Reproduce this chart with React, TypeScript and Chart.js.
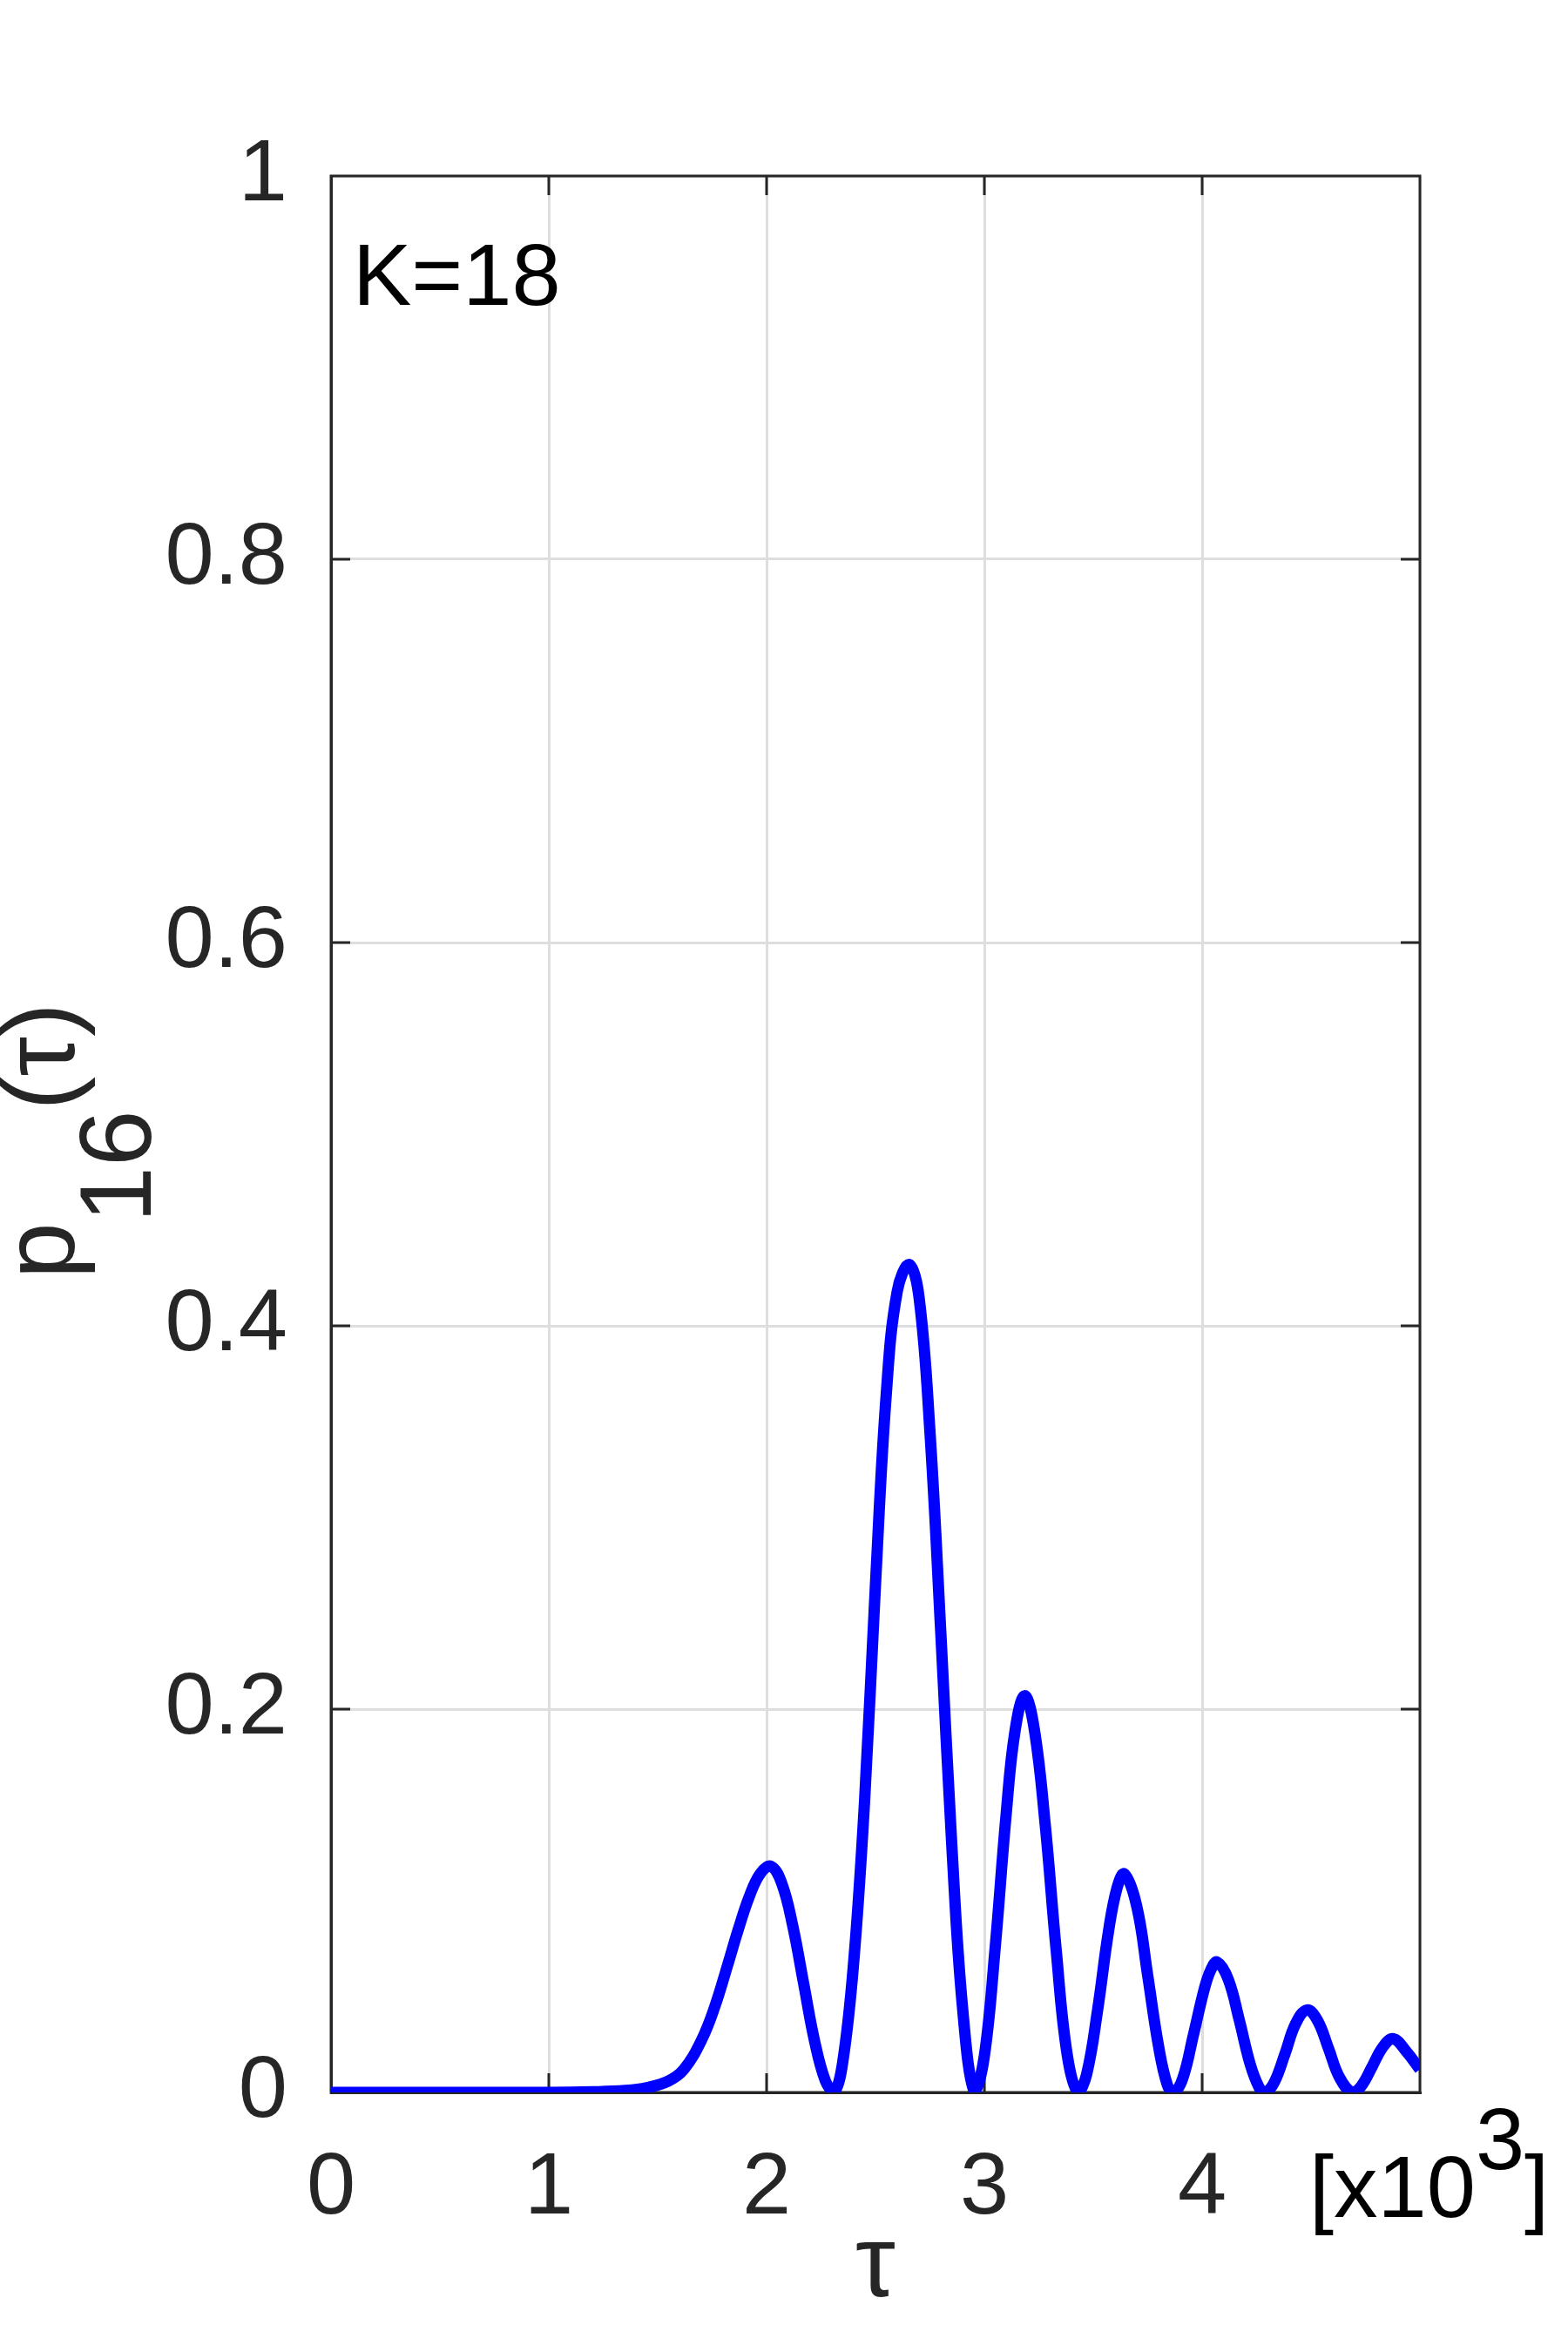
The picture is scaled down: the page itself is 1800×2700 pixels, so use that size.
import React, { useEffect, useRef } from 'react';
import { Chart, registerables } from 'chart.js';

Chart.register(...registerables);

// τ in units of 10^3 (as on the axis)
const tauK = [
  0, 1.0, 1.2, 1.35, 1.45, 1.55, 1.62, 1.7, 1.76, 1.82, 1.87, 1.92, 1.97, 2.02, 2.07, 2.12, 2.17, 2.22, 2.27, 2.31,
  2.35, 2.4, 2.45, 2.5, 2.55, 2.6, 2.655, 2.7, 2.75, 2.8, 2.85, 2.9, 2.955,
  3.0, 3.05, 3.1, 3.14, 3.185, 3.23, 3.28, 3.33, 3.38, 3.43,
  3.47, 3.52, 3.57, 3.61, 3.643, 3.7, 3.75, 3.8, 3.84, 3.868,
  3.91, 3.96, 4.01, 4.04, 4.069, 4.12, 4.17, 4.22, 4.26, 4.288,
  4.33, 4.38, 4.43, 4.482, 4.53, 4.58, 4.63, 4.688,
  4.73, 4.78, 4.83, 4.878, 4.94, 5.0,
];
const prob = [
  0, 0, 0.0003, 0.001, 0.0025, 0.006, 0.012, 0.027, 0.044, 0.066, 0.085, 0.102, 0.114, 0.118, 0.109, 0.087, 0.057, 0.027, 0.006, 0,
  0.016, 0.068, 0.152, 0.265, 0.365, 0.418, 0.432, 0.415, 0.345, 0.24, 0.13, 0.044, 0,
  0.019, 0.076, 0.145, 0.188, 0.207, 0.189, 0.139, 0.074, 0.02, 0,
  0.0096, 0.043, 0.084, 0.107, 0.114, 0.097, 0.061, 0.024, 0.004, 0,
  0.007, 0.03, 0.054, 0.064, 0.068, 0.059, 0.038, 0.015, 0.003, 0,
  0.005, 0.02, 0.036, 0.043, 0.0375, 0.023, 0.008, 0,
  0.0032, 0.0133, 0.0237, 0.028, 0.021, 0.012,
];
const xTickValues = [0, 1, 2, 3, 4];
const yTickValues = [0, 0.2, 0.4, 0.6, 0.8, 1];
const annotationText = 'K=18';
const xLabel = 'τ';
const yLabelMain = 'p';
const yLabelSub = '16';
const yLabelTail = '(τ)';
const xExpBase = '[x10';
const xExpPow = '3';
const xExpClose = ']';

const FONT = '"Liberation Sans", Arial, Helvetica, sans-serif';
const AXC = '#262626';

const decor = {
  id: 'decor',
  beforeDatasetsDraw(chart: any) {
    const { ctx, chartArea: a, scales } = chart;
    const x = scales.x;
    const y = scales.y;
    ctx.save();
    ctx.strokeStyle = AXC;
    ctx.lineWidth = 3;
    ctx.strokeRect(a.left, a.top, a.right - a.left, a.bottom - a.top);
    ctx.beginPath();
    for (const t of xTickValues) {
      if (t === 0) continue;
      const px = x.getPixelForValue(t);
      ctx.moveTo(px, a.bottom);
      ctx.lineTo(px, a.bottom - 22);
      ctx.moveTo(px, a.top);
      ctx.lineTo(px, a.top + 22);
    }
    for (const v of yTickValues) {
      if (v === 0 || v === 1) continue;
      const py = y.getPixelForValue(v);
      ctx.moveTo(a.left, py);
      ctx.lineTo(a.left + 22, py);
      ctx.moveTo(a.right, py);
      ctx.lineTo(a.right - 22, py);
    }
    ctx.stroke();
    ctx.restore();
  },
  afterDraw(chart: any) {
    const { ctx, chartArea: a } = chart;
    ctx.save();
    ctx.textAlign = 'left';
    ctx.textBaseline = 'alphabetic';
    // annotation
    ctx.fillStyle = '#000000';
    ctx.font = `101px ${FONT}`;
    ctx.fillText(annotationText, a.left + 25, a.top + 148);
    // exponent label
    let ex = 1503;
    ctx.fillText(xExpBase, ex, 2545);
    ex += ctx.measureText(xExpBase).width;
    ctx.fillText(xExpPow, ex, 2490);
    ex += ctx.measureText(xExpPow).width;
    ctx.fillText(xExpClose, ex, 2545);
    // x label
    ctx.fillStyle = AXC;
    ctx.font = `116px ${FONT}`;
    ctx.textAlign = 'center';
    ctx.fillText(xLabel, (a.left + a.right) / 2, 2636);
    // y label (rotated)
    ctx.textAlign = 'left';
    ctx.translate(85, 1468);
    ctx.rotate(-Math.PI / 2);
    ctx.fillText(yLabelMain, 0, 0);
    const wp = ctx.measureText(yLabelMain).width;
    ctx.fillText(yLabelSub, wp, 88);
    const ws = ctx.measureText(yLabelSub).width;
    ctx.fillText(yLabelTail, wp + ws, 0);
    ctx.restore();
  },
};

export default function App() {
  const ref = useRef<HTMLCanvasElement | null>(null);
  useEffect(() => {
    if (!ref.current) return;
    const points = tauK.map((t, i) => ({ x: t, y: prob[i] }));
    const chart = new Chart(ref.current, {
      type: 'line',
      data: {
        datasets: [
          {
            data: points,
            borderColor: '#0000ff',
            borderWidth: 13,
            pointRadius: 0,
            fill: false,
            tension: 0.4,
          },
        ],
      },
      options: {
        responsive: false,
        animation: false,
        layout: { padding: { left: 0, top: 202, right: 170, bottom: 0 } },
        plugins: { legend: { display: false }, tooltip: { enabled: false } },
        scales: {
          x: {
            type: 'linear',
            min: 0,
            max: 5,
            afterFit: (s: any) => {
              s.height = 298;
            },
            afterBuildTicks: (s: any) => {
              s.ticks = [0, 1, 2, 3, 4, 5].map((v) => ({ value: v }));
            },
            ticks: {
              callback: (v: any) => (xTickValues.includes(v) ? String(v) : ''),
              color: AXC,
              font: { family: FONT, size: 101, lineHeight: 1.2 },
              padding: 51,
              maxRotation: 0,
              autoSkip: false,
            },
            grid: { color: '#dedede', lineWidth: 3, drawTicks: false },
            border: { display: true, color: AXC, width: 3 },
          },
          y: {
            type: 'linear',
            min: 0,
            max: 1,
            afterFit: (s: any) => {
              s.width = 380;
            },
            afterBuildTicks: (s: any) => {
              s.ticks = yTickValues.map((v) => ({ value: v }));
            },
            ticks: {
              callback: (v: any) => (v === 0 ? '0' : v === 1 ? '1' : Number(v).toFixed(1)),
              color: AXC,
              font: { family: FONT, size: 101, lineHeight: 1.2 },
              padding: 50,
              autoSkip: false,
            },
            grid: { color: '#dedede', lineWidth: 3, drawTicks: false },
            border: { display: true, color: AXC, width: 3 },
          },
        },
      },
      plugins: [decor],
    });
    return () => chart.destroy();
  }, []);
  return (
    <div style={{ position: 'absolute', left: 0, top: 0, width: 1800, height: 2700, background: '#fff' }}>
      <canvas ref={ref} width={1800} height={2700} style={{ width: 1800, height: 2700, display: 'block' }} />
    </div>
  );
}
